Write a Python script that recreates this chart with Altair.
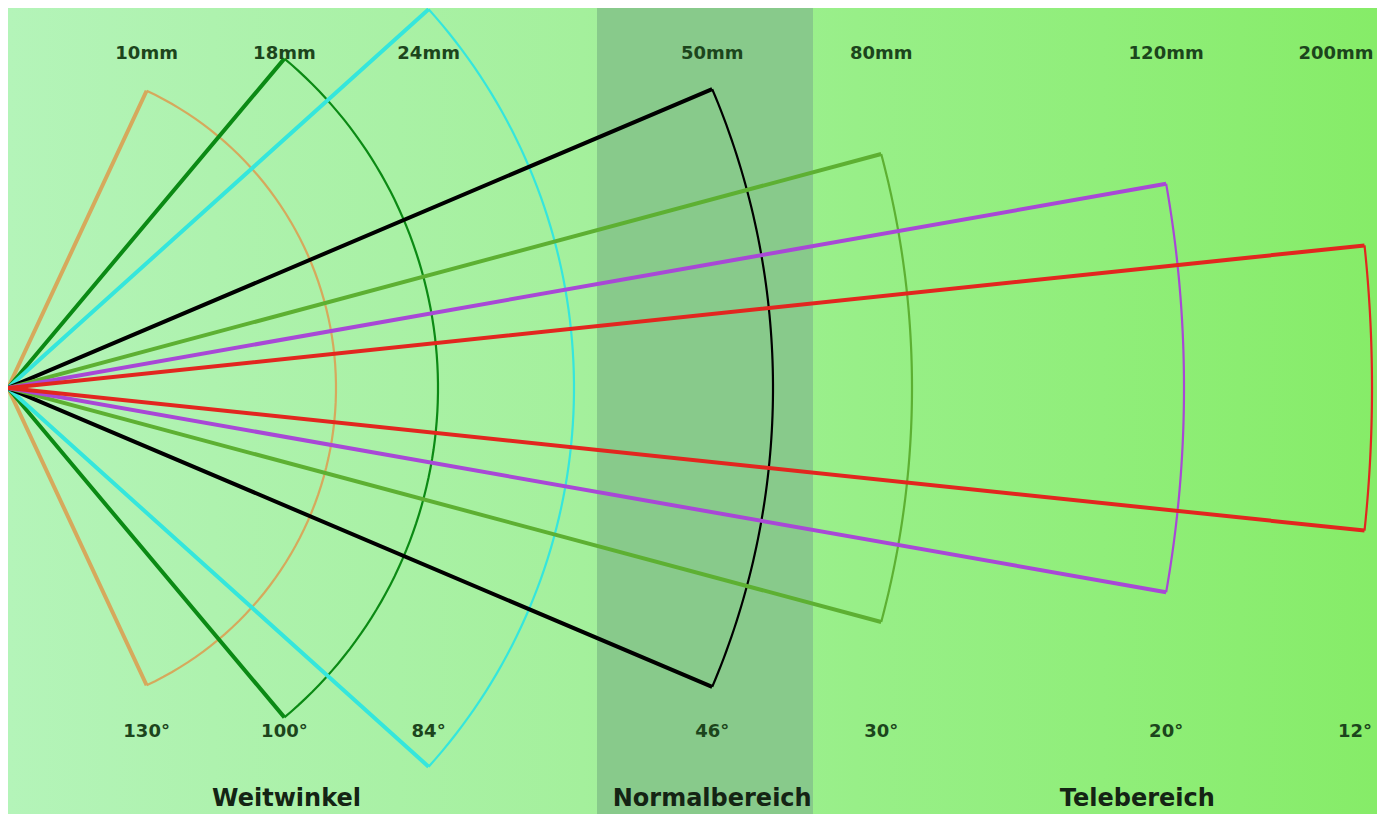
import altair as alt
import numpy as np
import pandas as pd

# ---- data -------------------------------------------------------------
focal_lengths = ["10mm", "18mm", "24mm", "50mm", "80mm", "120mm", "200mm"]
view_angles = [130, 100, 84, 46, 30, 20, 12]           # degrees
radii = [328, 430, 566, 765, 904, 1176, 1364]          # drawing units
lens_zone = ["Weitwinkel", "Weitwinkel", "Weitwinkel", "Normalbereich",
             "Telebereich", "Telebereich", "Telebereich"]
zone_names = ["Weitwinkel", "Normalbereich", "Telebereich"]
normal_range = [589, 805]                              # drawing units
line_colors = ["#D6A95C", "#0B8A14", "#35E6DC", "#000000",
               "#5DB032", "#A848D6", "#E2261F"]

# ---- drawing extent (drawing units) -----------------------------------
X_MAX = 1369
Y_TOP = 380
Y_BOTTOM = -426
W, H = 1369, 806

# ---- build tables -------------------------------------------------------
ray_rows, arc_rows, lab_rows = [], [], []
for f, a, r, z in zip(focal_lengths, view_angles, radii, lens_zone):
    h = np.radians(a / 2)
    tx, ty = r * np.cos(h), r * np.sin(h)
    ray_rows += [
        {"lens": f, "step": 0, "x": tx, "y": ty},
        {"lens": f, "step": 1, "x": 0.0, "y": 0.0},
        {"lens": f, "step": 2, "x": tx, "y": -ty},
    ]
    for k, t in enumerate(np.linspace(-h, h, 80)):
        arc_rows.append({"lens": f, "step": k, "x": r * np.cos(t), "y": r * np.sin(t)})
    lab_rows.append({"lens": f, "zone": z, "tipx": tx,
                     "labx": min(tx, X_MAX - 41),
                     "angx": min(tx, X_MAX - 22),
                     "angle": f"{a}°"})

rays = pd.DataFrame(ray_rows)
arcs = pd.DataFrame(arc_rows)
labels = pd.DataFrame(lab_rows)
zone_lab = labels.groupby("zone", as_index=False)["tipx"].mean()
band = pd.DataFrame({"x": [normal_range[0]], "x2": [normal_range[1]],
                     "y": [Y_BOTTOM], "y2": [Y_TOP]})
bg = pd.DataFrame({"x": [0], "x2": [X_MAX], "y": [Y_BOTTOM], "y2": [Y_TOP]})

xs = alt.Scale(domain=[0, X_MAX], nice=False, zero=False)
ys = alt.Scale(domain=[Y_BOTTOM, Y_TOP], nice=False, zero=False)
cs = alt.Scale(domain=focal_lengths, range=line_colors)
X = lambda f: alt.X(f, scale=xs, axis=None)
Y = lambda f: alt.Y(f, scale=ys, axis=None)

gradient = alt.LinearGradient(
    gradient="linear", x1=0, x2=1, y1=0, y2=0,
    stops=[
        alt.GradientStop(color="#B4F4B9", offset=0.0),
        alt.GradientStop(color="#AEF2AE", offset=0.15),
        alt.GradientStop(color="#A4F09C", offset=0.42),
        alt.GradientStop(color="#98EF88", offset=0.62),
        alt.GradientStop(color="#90EE7A", offset=0.8),
        alt.GradientStop(color="#86EC68", offset=1.0),
    ],
)

background = alt.Chart(bg).mark_rect(fill=gradient).encode(
    x=X("x:Q"), x2="x2", y=Y("y:Q"), y2="y2")

normal_band = alt.Chart(band).mark_rect(fill="#88CA8B").encode(
    x=X("x:Q"), x2="x2", y=Y("y:Q"), y2="y2")

arc_layer = alt.Chart(arcs).mark_line(strokeWidth=2.2).encode(
    x=X("x:Q"), y=Y("y:Q"),
    color=alt.Color("lens:N", scale=cs, legend=None),
    order="step:Q")

ray_layer = alt.Chart(rays).mark_line(strokeWidth=4, strokeJoin="miter").encode(
    x=X("x:Q"), y=Y("y:Q"),
    color=alt.Color("lens:N", scale=cs, legend=None),
    order="step:Q")

top_text = alt.Chart(labels).mark_text(
    font="DejaVu Sans", fontWeight="bold", fontSize=18, color="#1C451C",
    baseline="alphabetic", align="center").encode(
    x=X("labx:Q"), y=alt.value(51), text="lens:N")

angle_text = alt.Chart(labels).mark_text(
    font="DejaVu Sans", fontWeight="bold", fontSize=18, color="#1C451C",
    baseline="alphabetic", align="center").encode(
    x=X("angx:Q"), y=alt.value(729), text="angle:N")

zone_text = alt.Chart(zone_lab).mark_text(
    font="DejaVu Sans", fontWeight="bold", fontSize=24, color="#142414",
    baseline="alphabetic", align="center").encode(
    x=X("tipx:Q"), y=alt.value(798), text="zone:N")

chart = alt.layer(
    background, normal_band, arc_layer, ray_layer, top_text, angle_text, zone_text
).properties(
    width=W, height=H, padding=0, autosize=alt.AutoSizeParams(type="none")
).configure_view(stroke=None)

chart.save("out.html", embed_options={"renderer": "svg", "actions": False})
